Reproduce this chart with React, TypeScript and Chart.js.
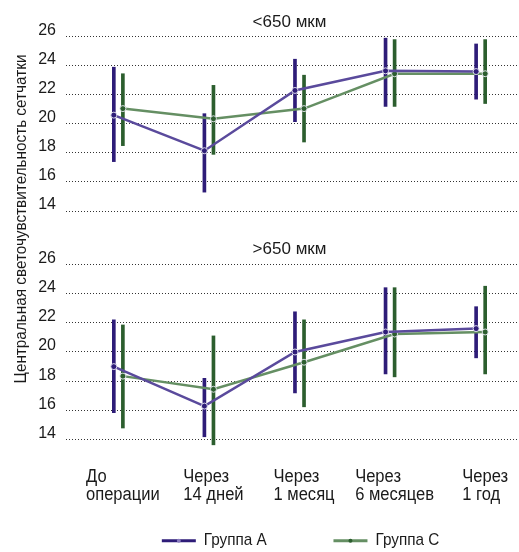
import React, { useEffect, useRef } from "react";
import { Chart, registerables } from "chart.js";

Chart.register(...registerables);

// ---------- data ----------
const categories: string[][] = [
  ["До", "операции"],
  ["Через", "14 дней"],
  ["Через", "1 месяц"],
  ["Через", "6 месяцев"],
  ["Через", "1 год"],
];
const panelTitles = ["<650 мкм", ">650 мкм"];
const seriesNames = ["Группа A", "Группа C"];
const yAxisTitle = "Центральная светочувствительность сетчатки";
const yTicks = [14, 16, 18, 20, 22, 24, 26];

// top panel (<650 мкм)
const topA = [20.6, 18.15, 22.3, 23.65, 23.6];
const topALow = [17.4, 15.3, 20.15, 21.2, 21.7];
const topAHigh = [23.9, 20.7, 24.45, 25.9, 25.5];
const topC = [21.05, 20.35, 21.05, 23.45, 23.45];
const topCLow = [18.5, 17.9, 18.75, 21.2, 21.4];
const topCHigh = [23.45, 22.65, 23.35, 25.8, 25.8];

// bottom panel (>650 мкм)
const botA = [19.0, 16.3, 20.0, 21.37, 21.6];
const botALow = [15.85, 14.2, 17.2, 18.5, 19.6];
const botAHigh = [22.2, 18.2, 22.75, 24.4, 23.1];
const botC = [18.35, 17.45, 19.3, 21.23, 21.37];
const botCLow = [14.8, 13.65, 16.25, 18.3, 18.5];
const botCHigh = [21.85, 21.1, 22.2, 24.4, 24.5];

// ---------- layout / styles ----------
const Y1_MIN = -1.745;
const Y1_MAX = 26;
const Y2_MIN = 14;
const Y2_MAX = 41.57;
const Y_FACTOR = (Y1_MAX - Y1_MIN) / (Y2_MAX - Y2_MIN);
const toY1 = (v: number) => Y1_MIN + (v - Y2_MIN) * Y_FACTOR;
const fromY1 = (u: number) => Y2_MIN + (u - Y1_MIN) / Y_FACTOR;

const FONT = "'Liberation Sans', Arial, sans-serif";
const TEXT = "#1a1a1a";
const PURPLE_BAR = "#2e1c78";
const PURPLE_LINE = "#5a4a9c";
const GREEN_BAR = "#2c5e2e";
const GREEN_LINE = "#658f63";
const OFF = 0.05;

function lineDs(label: string, vals: number[], offset: number, axis: string, lineColor: string, dotColor: string) {
  return {
    type: "line" as const,
    label,
    data: vals.map((v, i) => ({ x: i + offset, y: v })),
    yAxisID: axis,
    xAxisID: "x",
    borderColor: lineColor,
    borderWidth: 2.5,
    pointRadius: 3,
    pointBackgroundColor: dotColor,
    pointBorderColor: "rgba(235,235,245,0.9)",
    pointBorderWidth: 1,
    tension: 0,
    clip: false as any,
    order: 0,
  };
}

function barDs(label: string, lo: number[], hi: number[], offset: number, axis: string, color: string) {
  return {
    type: "bar" as const,
    label,
    data: lo.map((l, i) => ({ x: i + offset, y: [l, hi[i]] })),
    yAxisID: axis,
    xAxisID: "x",
    backgroundColor: color,
    borderWidth: 0,
    grouped: false,
    barThickness: 3,
    maxBarThickness: 3,
    clip: false as any,
    order: 1,
  };
}

function drawText(ctx: CanvasRenderingContext2D, text: string, x: number, y: number, sx: number) {
  ctx.save();
  ctx.translate(x, y);
  ctx.scale(sx, 1);
  ctx.fillText(text, 0, 0);
  ctx.restore();
}

const overlayPlugin = {
  id: "overlay",
  afterDraw(chart: any) {
    const ctx: CanvasRenderingContext2D = chart.ctx;
    const area = chart.chartArea;
    const xs = chart.scales.x;
    const y1 = chart.scales.y1;
    const y2 = chart.scales.y2;
    ctx.save();
    ctx.fillStyle = TEXT;

    // panel titles
    ctx.font = `17px ${FONT}`;
    ctx.textAlign = "center";
    ctx.textBaseline = "middle";
    const cx = xs.getPixelForValue(1.89);
    drawText(ctx, panelTitles[0], cx, y1.getPixelForValue(27), 1.0);
    drawText(ctx, panelTitles[1], cx, y2.getPixelForValue(27), 1.0);

    // category labels (left-aligned block centred on the category)
    const SX_CAT = 0.92;
    ctx.font = `18px ${FONT}`;
    ctx.textAlign = "left";
    categories.forEach((lines, i) => {
      const w = Math.max(...lines.map((l) => ctx.measureText(l).width)) * SX_CAT;
      const px = xs.getPixelForValue(i + OFF);
      lines.forEach((l, j) => drawText(ctx, l, px - w / 2, area.bottom + 37 + j * 18.5, SX_CAT));
    });

    // y axis title
    ctx.save();
    ctx.translate(21, 219);
    ctx.rotate(-Math.PI / 2);
    ctx.scale(0.9, 1);
    ctx.textAlign = "center";
    ctx.font = `17px ${FONT}`;
    ctx.fillText(yAxisTitle, 0, 0);
    ctx.restore();

    // legend
    const legendY = area.bottom + 101;
    const starts = [xs.getPixelForValue(0.48), xs.getPixelForValue(2.375)];
    const lineCols = [PURPLE_BAR, GREEN_LINE];
    ctx.font = `17px ${FONT}`;
    ctx.textAlign = "left";
    seriesNames.forEach((name, k) => {
      const x0 = starts[k];
      ctx.strokeStyle = lineCols[k];
      ctx.lineWidth = 3;
      ctx.beginPath();
      ctx.moveTo(x0, legendY);
      ctx.lineTo(x0 + 34, legendY);
      ctx.stroke();
      ctx.fillStyle = k === 0 ? "#8a7cc0" : "#2c5e2e";
      ctx.beginPath();
      ctx.arc(x0 + 17, legendY, 2, 0, Math.PI * 2);
      ctx.fill();
      ctx.fillStyle = TEXT;
      drawText(ctx, name, x0 + 42, legendY, 0.9);
    });
    ctx.restore();
  },
};

export default function App() {
  const ref = useRef<HTMLCanvasElement | null>(null);
  useEffect(() => {
    if (!ref.current) return;
    const chart = new Chart(ref.current, {
      type: "line",
      data: {
        datasets: [
          lineDs(seriesNames[0] + " top", topA, -OFF, "y1", PURPLE_LINE, PURPLE_BAR),
          lineDs(seriesNames[1] + " top", topC, OFF, "y1", GREEN_LINE, GREEN_BAR),
          lineDs(seriesNames[0] + " bottom", botA, -OFF, "y2", PURPLE_LINE, PURPLE_BAR),
          lineDs(seriesNames[1] + " bottom", botC, OFF, "y2", GREEN_LINE, GREEN_BAR),
          barDs(seriesNames[0] + " top err", topALow, topAHigh, -OFF, "y1", PURPLE_BAR),
          barDs(seriesNames[1] + " top err", topCLow, topCHigh, OFF, "y1", GREEN_BAR),
          barDs(seriesNames[0] + " bottom err", botALow, botAHigh, -OFF, "y2", PURPLE_BAR),
          barDs(seriesNames[1] + " bottom err", botCLow, botCHigh, OFF, "y2", GREEN_BAR),
        ] as any,
      },
      options: {
        responsive: false,
        animation: false,
        devicePixelRatio: 1,
        layout: { autoPadding: false, padding: { top: 36.7, bottom: 112.3, left: 0, right: 0 } },
        plugins: { legend: { display: false }, tooltip: { enabled: false }, title: { display: false } },
        scales: {
          x: {
            type: "linear",
            min: -0.578,
            max: 4.4234,
            offset: false,
            display: false,
            grid: { display: false },
          },
          // y1: upper panel values; its ticks also carry the lower panel's scale
          y1: {
            type: "linear",
            position: "left",
            min: Y1_MIN,
            max: Y1_MAX,
            bounds: "data",
            beginAtZero: false,
            afterBuildTicks: (scale: any) => {
              const vals = [...yTicks.map((v) => toY1(v)), ...yTicks].sort((a, b) => a - b);
              scale.ticks = vals.map((v) => ({ value: v }));
            },
            afterFit: (scale: any) => {
              scale.width = 66;
            },
            grid: { color: "#333", lineWidth: 1, drawTicks: false },
            border: { display: false, dash: [1, 2] },
            ticks: {
              color: TEXT,
              font: { family: FONT, size: 16 },
              padding: 10,
              labelOffset: -6,
              autoSkip: false,
              callback: (v: any) => (v >= 13 ? String(v) : String(Math.round(fromY1(v)))),
            },
          },
          // y2: lower panel values (shares the same pixel span)
          y2: {
            type: "linear",
            position: "left",
            min: Y2_MIN,
            max: Y2_MAX,
            bounds: "data",
            beginAtZero: false,
            display: false,
          },
        },
      } as any,
      plugins: [overlayPlugin],
    });
    return () => chart.destroy();
  }, []);
  return (
    <div style={{ position: "absolute", left: 0, top: 0, width: 519, height: 552, background: "#fff" }}>
      <canvas ref={ref} width={519} height={552} style={{ display: "block" }} />
    </div>
  );
}
